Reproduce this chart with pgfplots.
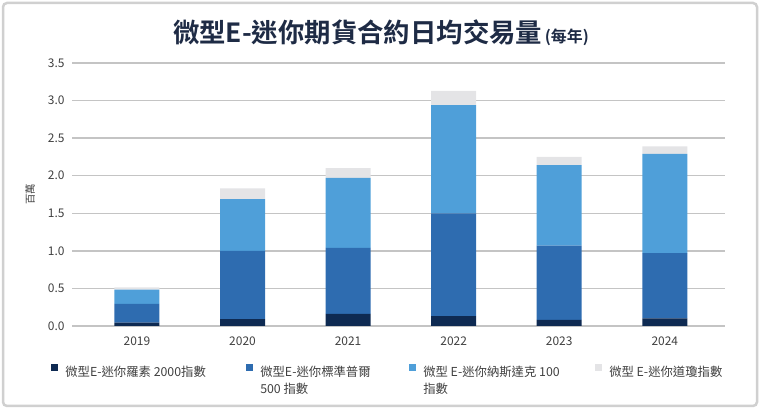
\documentclass[border=0pt]{standalone}
\usepackage{fontspec}
\setmainfont{Noto Sans CJK TC}
\newfontfamily\titlefont{Noto Sans CJK TC Bold}
\usepackage{pgfplots}
\pgfplotsset{compat=1.18}
\definecolor{russell}{HTML}{0E2A52}
\definecolor{sp}{HTML}{2E6CB0}
\definecolor{nasdaq}{HTML}{4F9FD9}
\definecolor{dow}{HTML}{E4E4E6}
\definecolor{gridgray}{HTML}{C4C4C4}
\definecolor{labgray}{HTML}{404040}
\definecolor{titleblue}{HTML}{1E2B45}
\newcommand{\lent}[2]{\begin{tabular}[t]{@{}p{#1}@{}}#2\end{tabular}}

\begin{document}
\begin{tikzpicture}
  \useasboundingbox (0bp,0bp) rectangle (760bp,409bp);
  \draw[gridgray!80, line width=2.5bp, rounded corners=4bp] (3bp,3bp) rectangle (757bp,406bp);
  \node[text=titleblue, anchor=base] at (381bp,366bp)
    {\titlefont\fontsize{26.5}{30}\selectfont 微型E-迷你期貨合約日均交易量{\fontsize{16}{18}\selectfont\,(每年)}};
  \begin{axis}[
    at={(72bp,83bp)}, anchor=south west,
    scale only axis, width=653bp, height=263bp,
    ybar stacked, bar width=45bp,
    xmin=-0.615, xmax=5.57, ymin=0, ymax=3.5,
    xtick={0,1,2,3,4,5},
    xticklabels={2019,2020,2021,2022,2023,2024},
    ytick={0,0.5,...,3.5},
    /pgf/number format/fixed, /pgf/number format/fixed zerofill, /pgf/number format/precision=1,
    /pgf/number format/assume math mode=true,
    axis line style={draw=none},
    major tick length=0pt,
    ymajorgrids, grid style={gridgray, line width=1.3bp},
    tick label style={font=\fontsize{12}{14}\selectfont, text=labgray},
    yticklabel style={xshift=-4bp},
    xticklabel style={yshift=-7bp},
    ylabel={百萬}, ylabel style={font=\fontsize{10.5}{12}\selectfont, text=labgray, yshift=6bp},
    legend columns=4,
    legend style={at={(-0.032,-0.14)}, anchor=north west, draw=none, fill=none,
      inner sep=0pt, font=\fontsize{12.4}{17}\selectfont, text=labgray,
      /tikz/every odd column/.append style={column sep=5bp}},
    legend image code/.code={\fill[#1] (0bp,0.5bp) rectangle (7bp,7.5bp);},
    legend cell align=left,
  ]
    \addplot[fill=russell, draw=none] coordinates {(0,0.045) (1,0.09) (2,0.16) (3,0.13) (4,0.08) (5,0.10)};
    \addlegendentry{\lent{179bp}{微型E-迷你羅素 2000指數}}
    \addplot[fill=sp, draw=none] coordinates {(0,0.25) (1,0.91) (2,0.88) (3,1.37) (4,0.99) (5,0.87)};
    \addlegendentry{\lent{147bp}{微型E-迷你標準普爾\\500 指數}}
    \addplot[fill=nasdaq, draw=none] coordinates {(0,0.19) (1,0.69) (2,0.93) (3,1.44) (4,1.07) (5,1.32)};
    \addlegendentry{\lent{170bp}{微型 E-迷你納斯達克 100\\指數}}
    \addplot[fill=dow, draw=none] coordinates {(0,0.03) (1,0.14) (2,0.13) (3,0.19) (4,0.11) (5,0.10)};
    \addlegendentry{\lent{125bp}{微型 E-迷你道瓊指數}}
  \end{axis}
\end{tikzpicture}
\end{document}
